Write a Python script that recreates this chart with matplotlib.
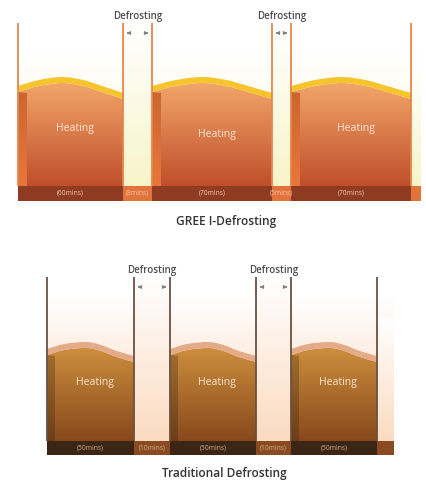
"""Heating / defrosting cycle comparison: GREE I-Defrosting vs traditional defrosting"""
import numpy as np
import matplotlib
matplotlib.use('Agg')
import matplotlib.pyplot as plt
from matplotlib.path import Path
from matplotlib.patches import PathPatch, Rectangle
from matplotlib.colors import to_rgb

plt.rcParams['font.family'] = ['Open Sans', 'DejaVu Sans']

# ---- data ----
top_kinds = ['heat', 'defrost', 'heat', 'defrost', 'heat']
top_minutes = [60, 8, 70, 5, 70]
top_widths = [105, 29, 120, 19, 120]          # drawn width of each phase
bot_kinds = ['heat', 'defrost', 'heat', 'defrost', 'heat']
bot_minutes = [50, 10, 50, 10, 50]
bot_widths = [87, 36, 86, 35, 86]
top_title = 'GREE I-Defrosting'
bot_title = 'Traditional Defrosting'

# crest profile of a heating block: (fraction of width, top y)
top_wave = [(0.0, 92), (0.2, 86), (0.42, 83), (0.62, 86), (0.8, 92), (1.0, 99)]
bot_wave = [(0.0, 355), (0.2, 350), (0.45, 348), (0.62, 351), (0.8, 357), (1.0, 362)]

W, H = 427, 483
fig = plt.figure(figsize=(W / 100, H / 100), dpi=100)
ax = fig.add_axes([0, 0, 1, 1])
ax.set_xlim(0, W); ax.set_ylim(H, 0)
ax.axis('off')


def grad(x0, x1, y0, y1, c0, c1, clip=None, z=1):
    a, b = np.array(to_rgb(c0)), np.array(to_rgb(c1))
    t = np.linspace(0, 1, 128)[:, None, None]
    img = a * (1 - t) + b * t
    im = ax.imshow(img, extent=(x0, x1, y1, y0), aspect='auto', zorder=z, interpolation='bilinear')
    if clip is not None:
        clip.set_transform(ax.transData)
        im.set_clip_path(clip)
    return im


def smooth(pts):
    """Catmull-Rom through pts -> bezier verts/codes"""
    p = np.array(pts, float)
    ext = np.vstack([p[0], p, p[-1]])
    verts, codes = [tuple(p[0])], [Path.MOVETO]
    for i in range(1, len(ext) - 2):
        c1 = ext[i] + (ext[i + 1] - ext[i - 1]) / 6
        c2 = ext[i + 1] - (ext[i + 2] - ext[i]) / 6
        verts += [tuple(c1), tuple(c2), tuple(ext[i + 1])]
        codes += [Path.CURVE4] * 3
    return verts, codes


def block(x0, w, wave, ybot, face, side, band, side_w):
    pts = [(x0 + f * w, y) for f, y in wave]
    v, c = smooth(pts)
    body = v + [(x0 + w, ybot), (x0, ybot), (x0, pts[0][1])]
    codes = c + [Path.LINETO, Path.LINETO, Path.CLOSEPOLY]
    ytop = min(y for _, y in wave) - 1
    grad(x0, x0 + w, ytop, ybot, face[0], face[1], PathPatch(Path(body, codes)), z=3)
    sv = [(x0, pts[0][1]), (x0 + side_w, pts[0][1] + 1), (x0 + side_w, ybot), (x0, ybot), (x0, pts[0][1])]
    sp = PathPatch(Path(sv, [Path.MOVETO] + [Path.LINETO] * 3 + [Path.CLOSEPOLY]))
    grad(x0, x0 + side_w, ytop, ybot, side[0], side[1], sp, z=4)
    # crest band above the face
    up = [(x, y - 6) for x, y in pts]
    vu, cu = smooth(up)
    vb, cb = smooth(pts[::-1])
    bverts = vu + [tuple(pts[-1])] + vb[1:] + [tuple(up[0])]
    bcodes = cu + [Path.LINETO] + cb[1:] + [Path.CLOSEPOLY]
    ax.add_patch(PathPatch(Path(bverts, bcodes), facecolor=band, edgecolor='none', zorder=5))


def panel(x0, kinds, minutes, widths, wave, ytop_line, ybar, hbar, sty):
    edges = np.concatenate([[x0], x0 + np.cumsum(widths)])
    xr = edges[-1] + sty['tail']
    # background wash
    grad(x0, xr, sty['bg_y0'], ybar, 'white', sty['bg'], z=1)
    for i, k in enumerate(kinds):
        a, b = edges[i], edges[i + 1]
        if k == 'heat':
            block(a, b - a, wave, ybar, sty['face'], sty['side'], sty['band'], sty['side_w'])
            ax.text((a + sty['side_w'] + b) / 2, sty['heat_y'][i // 2], 'Heating', color=sty['htxt'],
                    fontsize=7.6, ha='center', va='center', zorder=6)
        else:
            grad(a, b, ytop_line, ybar, 'white', sty['gap'], z=2)
            ax.text((a + b) / 2, ytop_line - 7, 'Defrosting', color='#4d4d4d', fontsize=7,
                    fontweight='semibold', ha='center', va='center', zorder=6)
            ya = ytop_line + 10
            ax.annotate('', xy=(a + 1, ya), xytext=(a + 8, ya), zorder=6,
                        arrowprops=dict(arrowstyle='-|>', color='#7a7a7a', lw=0.7, mutation_scale=5))
            ax.annotate('', xy=(b - 1, ya), xytext=(b - 8, ya), zorder=6,
                        arrowprops=dict(arrowstyle='-|>', color='#7a7a7a', lw=0.7, mutation_scale=5))
        col = sty['bar_heat'] if k == 'heat' else sty['bar_gap']
        ax.add_patch(Rectangle((a, ybar), b - a, hbar, facecolor=col, edgecolor='none', zorder=7))
        ax.text((a + b) / 2, ybar + hbar / 2, f'({minutes[i]}mins)', color=sty['btxt'], fontsize=4.8,
                ha='center', va='center', zorder=8)
    # trailing gap after last block
    grad(edges[-1], xr, ytop_line + 40, ybar, 'white', sty['gap'], z=2)
    ax.add_patch(Rectangle((edges[-1], ybar), xr - edges[-1], hbar, facecolor=sty['bar_gap'],
                           edgecolor='none', zorder=7))
    for e in edges:
        ax.plot([e, e], [ytop_line, ybar], color=sty['line'], lw=1.3, zorder=6, solid_capstyle='butt')


top_style = dict(tail=10, bg_y0=50, bg='#faf6d6', gap='#f8f4c9', face=('#f3a66a', '#bf4f2b'),
                 side=('#c9652f', '#e8763b'), band='#f6c42c', side_w=9, heat_y=[128, 135, 128],
                 htxt='#fde6d2', bar_heat='#8f3b22', bar_gap='#e2733a', btxt='#f4c8aa', line='#e7854c')
bot_style = dict(tail=17, bg_y0=295, bg='#fad6b8', gap='#fbdbc0', face=('#cd8e3e', '#87491b'),
                 side=('#a5702f', '#6c3d18'), band='#e5aa88', side_w=8, heat_y=[383, 383, 383],
                 htxt='#fbe6cf', bar_heat='#3b2515', bar_gap='#8a4b22', btxt='#d2ae8a', line='#6b5141')

panel(18, top_kinds, top_minutes, top_widths, top_wave, 23, 186, 15, top_style)
panel(47, bot_kinds, bot_minutes, bot_widths, bot_wave, 277, 441, 14, bot_style)

ax.text(226, 222, top_title, color='#333333', fontsize=8.6, fontweight='semibold',
        ha='center', va='center')
ax.text(224, 474, bot_title, color='#333333', fontsize=8.6, fontweight='semibold',
        ha='center', va='center')

fig.savefig('out.png', dpi=100)
